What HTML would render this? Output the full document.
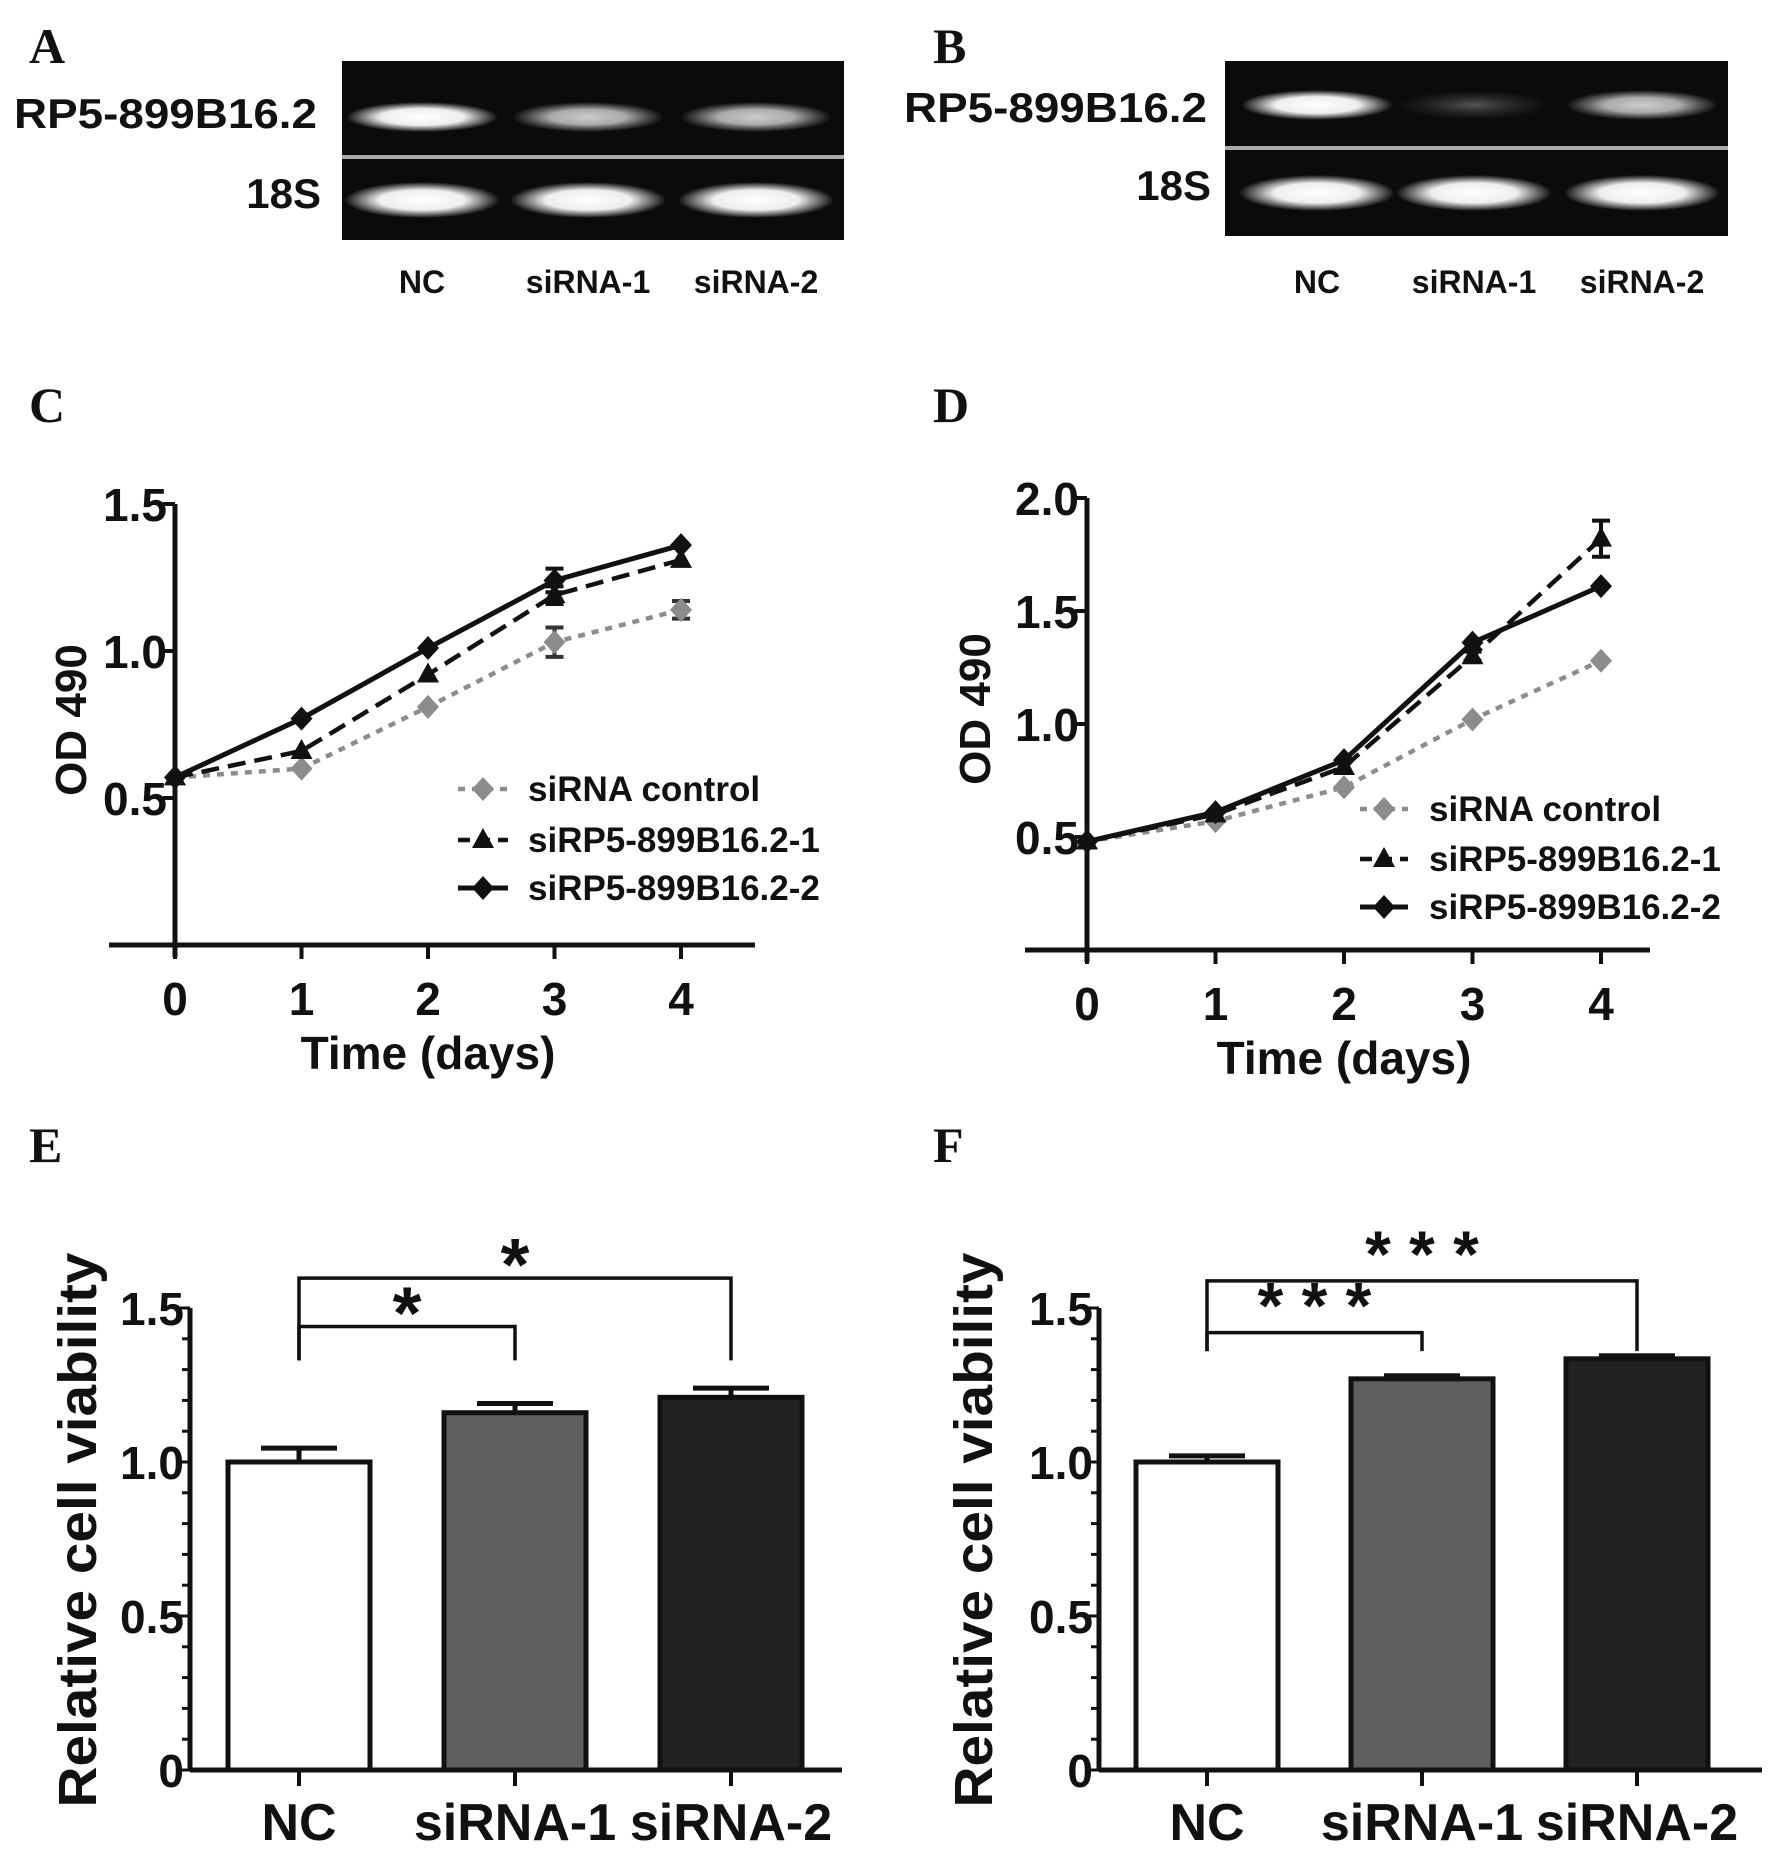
<!DOCTYPE html>
<html><head><meta charset="utf-8"><style>
html,body{margin:0;padding:0;background:#fff}
svg{display:block}
text{font-family:"Liberation Sans",Arial,sans-serif;font-weight:bold;fill:#111}
.pl{font-family:"Liberation Serif",serif;font-size:50px}
</style></head><body>
<svg id="fig" xmlns="http://www.w3.org/2000/svg" width="1772" height="1857" viewBox="0 0 1772 1857">
<defs>
<radialGradient id="bandStrong" cx="50%" cy="50%" r="50%"><stop offset="0" stop-color="#fff"/><stop offset="0.55" stop-color="#eee"/><stop offset="1" stop-color="#eee" stop-opacity="0"/></radialGradient>
<radialGradient id="bandMid" cx="50%" cy="50%" r="50%"><stop offset="0" stop-color="#ccc"/><stop offset="0.5" stop-color="#aaa"/><stop offset="1" stop-color="#999" stop-opacity="0"/></radialGradient>
<radialGradient id="bandWeak" cx="50%" cy="50%" r="50%"><stop offset="0" stop-color="#555"/><stop offset="1" stop-color="#333" stop-opacity="0"/></radialGradient>
</defs>
<text class="pl" x="29" y="63">A</text>
<text class="pl" x="933" y="63">B</text>
<text class="pl" x="29" y="422">C</text>
<text class="pl" x="933" y="422">D</text>
<text class="pl" x="29" y="1162">E</text>
<text class="pl" x="933" y="1162">F</text>
<g id="gels"></g>
<g id="chartC"></g><g id="chartD"></g><g id="chartE"></g><g id="chartF"></g>
</svg>
<script>
// ---- gel data ----
const gelLanes = ["NC","siRNA-1","siRNA-2"];
const gelA_target = [1.0, 0.6, 0.6];
const gelB_target = [0.85, 0.25, 0.45];
// ---- C data ----
const days = [0,1,2,3,4];
const C_ctrl = [0.57,0.60,0.81,1.03,1.14];
const C_ctrl_err = [0,0.01,0.01,0.05,0.03];
const C_si1 = [0.57,0.66,0.92,1.19,1.31];
const C_si1_err = [0,0.01,0.01,0.03,0.01];
const C_si2 = [0.57,0.77,1.01,1.24,1.36];
const C_si2_err = [0,0.01,0.01,0.04,0.01];
const C_ticks = [0.5,1.0,1.5];
const C_tickLabels = ["0.5","1.0","1.5"];
// ---- D data ----
const D_ctrl = [0.48,0.57,0.72,1.02,1.28];
const D_ctrl_err = [0,0.01,0.01,0.01,0.01];
const D_si1 = [0.48,0.60,0.81,1.30,1.82];
const D_si1_err = [0,0.01,0.01,0.02,0.08];
const D_si2 = [0.48,0.61,0.84,1.36,1.61];
const D_si2_err = [0,0.01,0.01,0.01,0.01];
const D_ticks = [0.5,1.0,1.5,2.0];
const D_tickLabels = ["0.5","1.0","1.5","2.0"];
const legendLabels = ["siRNA control","siRP5-899B16.2-1","siRP5-899B16.2-2"];
// ---- E/F data ----
const barCats = ["NC","siRNA-1","siRNA-2"];
const E_vals = [1.0,1.16,1.21];
const E_err = [0.045,0.03,0.03];
const F_vals = [1.0,1.27,1.335];
const F_err = [0.02,0.01,0.01];
const barTicks = [0,0.5,1.0,1.5];
const barTickLabels = ["0","0.5","1.0","1.5"];
const E_sig = ["*","*"];
const F_sig = ["* * *","* * *"];

const NS="http://www.w3.org/2000/svg";
function mk(tag,attrs,parent){const e=document.createElementNS(NS,tag);for(const k in attrs)e.setAttribute(k,attrs[k]);parent.appendChild(e);return e;}
function txt(s,attrs,parent){const e=mk("text",attrs,parent);e.textContent=s;return e;}

// ---- gels ----
const gels=document.getElementById("gels");
function drawGel(x0,x1,y0,y1,sep,lanesX,b1y,b2y,target,lblRight,lbl1y,lbl2y,pfx){
  const g=mk("g",{},gels);
  
  
  mk("rect",{x:x0,y:y0,width:x1-x0,height:y1-y0,fill:"#0b0b0b"},g);
  mk("rect",{x:x0,y:sep-2,width:x1-x0,height:4,fill:"#aaa"},g);
  lanesX.forEach((cx,i)=>{
    const v=target[i];
    const b=mk("ellipse",{cx:cx,cy:b1y,rx:76,ry:15,fill:v>0.8?"url(#bandStrong)":(v>0.4?"url(#bandMid)":"url(#bandWeak)")},g);
    
    
    const c=mk("ellipse",{cx:cx,cy:b2y,rx:78,ry:18,fill:"url(#bandStrong)"},g);
    
    
    const t=txt(gelLanes[i],{x:cx,y:293,"text-anchor":"middle","font-size":"32"},gels);
    
    
  });
  const l1=txt("RP5-899B16.2",{x:lblRight,y:lbl1y+15,"text-anchor":"end","font-size":"42",textLength:"303",lengthAdjust:"spacingAndGlyphs"},gels);
  
  
  const l2=txt("18S",{x:lblRight+4,y:lbl2y+15,"text-anchor":"end","font-size":"42"},gels);
  
  
}
drawGel(342,844,61,240,157,[422,588,756],117,200,gelA_target,317,113,193,"a");
drawGel(1225,1728,61,236,148,[1317,1474,1642],105,193,gelB_target,1207,107,185,"b");

// ---- line charts ----
function lineChart(id,ax,series,errs,ticks,tickLabels,leg){
  const g=document.getElementById(id);
  const xs=d=>ax.x0+d*ax.dx;
  const ys=v=>ax.y0-v*ax.py;
  const axY=ax.y0;
  mk("line",{x1:ax.x0,y1:ys(ticks[ticks.length-1]),x2:ax.x0,y2:axY+12,stroke:"#111","stroke-width":5},g);
  mk("line",{x1:ax.xl,y1:axY,x2:ax.xr,y2:axY,stroke:"#111","stroke-width":5},g);
  ticks.forEach((t,i)=>{
    mk("line",{x1:ax.x0-12,y1:ys(t),x2:ax.x0,y2:ys(t),stroke:"#111","stroke-width":4},g);
    const tl=txt(tickLabels[i],{x:ax.x0-8,y:ys(t)+17,"text-anchor":"end","font-size":"46"},g);
    
    
  });
  days.forEach(d=>{
    mk("line",{x1:xs(d),y1:axY,x2:xs(d),y2:axY+14,stroke:"#111","stroke-width":4},g);
    const tl=txt(String(d),{x:xs(d),y:axY+70,"text-anchor":"middle","font-size":"46"},g);
    
    
  });
  const xt=txt("Time (days)",{x:xs(2),y:axY+124,"text-anchor":"middle","font-size":"46"},g);
  
  
  const yt=txt("OD 490",{x:0,y:0,"text-anchor":"middle","font-size":"44",transform:`translate(${ax.ylx},${ax.ylab}) rotate(-90)`},g);
  
  
  const styles=[{c:"#8c8c8c",dash:"7 7",m:"d",w:4.5},{c:"#111",dash:"18 9",m:"t",w:4.5},{c:"#111",dash:"",m:"d",w:5}];
  const names=['control','sirp5-1','sirp5-2'];
  function marker(x,y,type,c,par){
    if(type==="d") return mk("polygon",{points:`${x},${y-12} ${x+11},${y} ${x},${y+12} ${x-11},${y}`,fill:c},par);
    return mk("polygon",{points:`${x},${y-12} ${x+11},${y+8} ${x-11},${y+8}`,fill:c},par);
  }
  series.forEach((s,si)=>{
    const st=styles[si];
    const pts=s.map((v,i)=>xs(days[i])+","+ys(v)).join(" ");
    const pl=mk("polyline",{points:pts,fill:"none",stroke:st.c,"stroke-width":st.w,"stroke-dasharray":st.dash},g);
    
    
    s.forEach((v,i)=>{
      const e=errs[si][i];
      if(e>=0.02){
        const x=xs(days[i]);
        mk("path",{d:`M${x},${ys(v+e)}V${ys(v-e)}M${x-9},${ys(v+e)}H${x+9}M${x-9},${ys(v-e)}H${x+9}`,stroke:st.c==="#8c8c8c"?"#333":"#111","stroke-width":4,fill:"none"},g);
      }
      const m=marker(xs(days[i]),ys(v),st.m,st.c,g);
      
      
    });
    const ly=leg.y[si];
    const lg=mk("g",{},g);
    
    
    mk("line",{x1:leg.x0,y1:ly,x2:leg.x1,y2:ly,stroke:st.c,"stroke-width":st.w,"stroke-dasharray":st.dash?(si===0?"7 7":"12 8"):""},lg);
    marker((leg.x0+leg.x1)/2,ly,st.m,st.c,lg);
    txt(legendLabels[si],{x:leg.tx,y:ly+12,"font-size":"35"},lg);
  });
}
lineChart("chartC",{x0:175,dx:126.5,y0:945,py:294,xl:109,xr:755,ylab:720,ylx:86},[C_ctrl,C_si1,C_si2],[C_ctrl_err,C_si1_err,C_si2_err],C_ticks,C_tickLabels,{x0:458,x1:508,tx:528,y:[789,840,888]});
lineChart("chartD",{x0:1087,dx:128.5,y0:950,py:226,xl:1025,xr:1650,ylab:709,ylx:990},[D_ctrl,D_si1,D_si2],[D_ctrl_err,D_si1_err,D_si2_err],D_ticks,D_tickLabels,{x0:1360,x1:1408,tx:1429,y:[809,859,907]});

// ---- bar charts ----
function barChart(id,ax,vals,errs,sig,br){
  const g=document.getElementById(id);
  const ys=v=>ax.y0-v*ax.py;
  const fills=["#fff","#606060","#222"];
  mk("line",{x1:ax.x0,y1:ys(1.5),x2:ax.x0,y2:ax.y0,stroke:"#111","stroke-width":5},g);
  mk("line",{x1:ax.x0,y1:ax.y0,x2:ax.xr,y2:ax.y0,stroke:"#111","stroke-width":5},g);
  for(let k=0;k<=15;k++){const v=k/10;mk("line",{x1:ax.x0-(k%5===0?14:8),y1:ys(v),x2:ax.x0,y2:ys(v),stroke:"#111","stroke-width":3},g);}
  barTicks.forEach((t,i)=>{
    const tl=txt(barTickLabels[i],{x:ax.x0-6,y:ys(t)+17,"text-anchor":"end","font-size":"46"},g);
    
    
  });
  const yt=txt("Relative cell viability",{x:0,y:0,"text-anchor":"middle","font-size":"54",textLength:"555",lengthAdjust:"spacingAndGlyphs",transform:`translate(${ax.ylx},${ax.yly}) rotate(-90)`},g);
  
  
  const cx=[];
  vals.forEach((v,i)=>{
    const c=ax.c0+i*ax.step; cx.push(c);
    const b=mk("rect",{x:c-ax.bw/2,y:ys(v),width:ax.bw,height:ax.y0-ys(v),fill:fills[i],stroke:"#111","stroke-width":5},g);
    
    
    mk("path",{d:`M${c},${ys(v)}V${ys(v+errs[i])}M${c-38},${ys(v+errs[i])}H${c+38}`,stroke:"#111","stroke-width":5,fill:"none"},g);
    mk("line",{x1:c,y1:ax.y0,x2:c,y2:ax.y0+16,stroke:"#111","stroke-width":4},g);
    const tl=txt(barCats[i],{x:c,y:ax.y0+70,"text-anchor":"middle","font-size":"52"},g);
    
    
  });
  [[1,br.low],[2,br.high]].forEach(([j,h],k)=>{
    const p=mk("path",{d:`M${cx[0]},${ys(br.end)}V${ys(h)}H${cx[j]}V${ys(br.end)}`,stroke:"#111","stroke-width":3.5,fill:"none"},g);
    
    
    const s=txt(sig[k],{x:(cx[0]+cx[j])/2,y:ys(h)+(sig[k].length>1?-4:12),"text-anchor":"middle","font-size":sig[k].length>1?"66":"74"},g);
    
    
  });
}
barChart("chartE",{x0:190,y0:1770,py:308,xr:842,c0:299,step:216,bw:142,ylx:96,yly:1530},E_vals,E_err,E_sig,{low:1.44,high:1.597,end:1.33});
barChart("chartF",{x0:1099,y0:1770,py:308,xr:1762,c0:1207,step:215,bw:142,ylx:992,yly:1530},F_vals,F_err,F_sig,{low:1.42,high:1.588,end:1.36});
</script>
</body></html>
